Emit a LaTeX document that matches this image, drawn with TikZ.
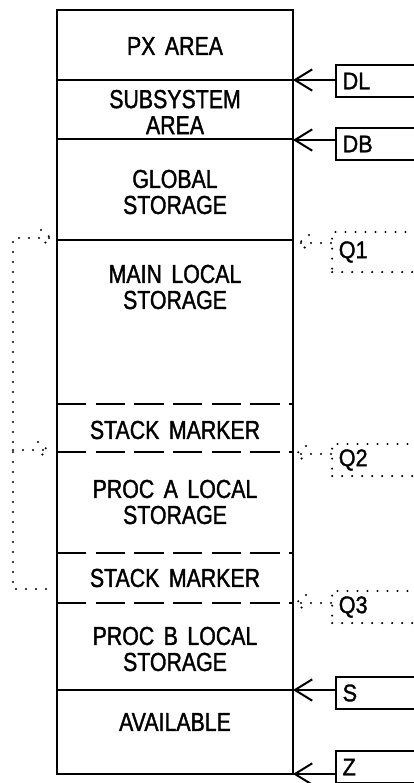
\documentclass[tikz,border=0pt]{standalone}
\usepackage{fontspec}
\newfontfamily\regionfont[FakeStretch=0.82, WordSpace=1.6, FakeBold=1.4]{Liberation Sans}
\newfontfamily\tagfont[FakeStretch=0.9, FakeBold=1.4]{Liberation Sans}
\usetikzlibrary{arrows.meta,positioning}
\tikzset{
  wall/.style={line width=2pt, draw=black},
  cut/.style={line width=1.8pt, dash pattern=on 22pt off 7pt},
  region/.style={font=\regionfont\fontsize{19.5pt}{19.5pt}\selectfont, align=center, inner sep=0pt},
  tag/.style={draw, line width=1.5pt, anchor=west, minimum width=80pt, minimum height=24pt,
    text width=70pt, inner xsep=3pt, align=left, font=\tagfont\fontsize{18pt}{18pt}\selectfont},
  link/.style={line width=1.7pt, line cap=round, dash pattern=on 0pt off 7.5pt},
  qtag/.style={tag, link},
  ptr/.style={-{Straight Barb[length=13pt, width=16pt]}, line width=1.5pt},
}
\newcommand\dotbarb[2]{\draw[link] (#1) ++(#2,-8) -- (#1) -- ++(#2,8);}

\begin{document}
\begin{tikzpicture}[x=0.75pt, y=-0.75pt]
  \path[use as bounding box, clip] (0,0) rectangle (414,783);
  % memory column
  \draw[wall] (57,10) rectangle (293,774);
  \foreach \y in {80,139,240,690} \draw[wall] (57,\y) -- (293,\y);
  \foreach \y in {404,452,553,603} \draw[cut] (57,\y) -- (293,\y);
  \node[region] (px) at (175,46) {PX AREA};
  \node[region] (subsys) at (175,112) {SUBSYSTEM\\AREA};
  \node[region] (glob) at (175,192) {GLOBAL\\STORAGE};
  \node[region] (mainloc) at (175,287) {MAIN LOCAL\\STORAGE};
  \node[region] (markA) at (175,430) {STACK MARKER};
  \node[region] (procA) at (175,502) {PROC A LOCAL\\STORAGE};
  \node[region] (markB) at (175,578) {STACK MARKER};
  \node[region] (procB) at (175,649) {PROC B LOCAL\\STORAGE};
  \node[region] (avail) at (175,722) {AVAILABLE};
  % pointers on the right
  \node[tag] (dl) at (335,81) {DL};
  \node[tag] (db) at (335,144) {DB};
  \node[qtag, minimum height=30pt] (q1) at (331,252) {Q1};
  \node[qtag] (q2) at (331,460) {Q2};
  \node[qtag] (q3) at (331,607) {Q3};
  \node[tag] (s) at (335,693) {S};
  \node[tag] (z) at (335,767) {Z};
  \coordinate (pdl) at (293,80);
  \coordinate (pdb) at (293,140);
  \coordinate (pq1) at (299,243);
  \coordinate (pq2) at (296,454);
  \coordinate (pq3) at (296,603);
  \coordinate (ps) at (293,690);
  \coordinate (pz) at (293,774);
  \draw[ptr] (dl.west |- pdl) -- (pdl);
  \draw[ptr] (db.west |- pdb) -- (pdb);
  \draw[ptr] (s.west |- ps) -- (ps);
  \draw[ptr] (z.west |- pz) -- (pz);
  \foreach \q in {q1,q2,q3} {
    \draw[link] (\q.west |- p\q) -- (p\q);
    \dotbarb{p\q}{10}
  }
  % back links between stack markers
  \coordinate (rail) at (13,0);
  \coordinate (lk1) at (51,238);
  \coordinate (lk2) at (48,450);
  \coordinate (lk3) at (46,589);
  \draw[link] (lk3) -- (rail |- lk3) -- (rail |- lk1) -- (lk1);
  \draw[link] (rail |- lk2) -- (lk2);
  \dotbarb{lk1}{-10}
  \dotbarb{lk2}{-10}
\end{tikzpicture}
\end{document}
